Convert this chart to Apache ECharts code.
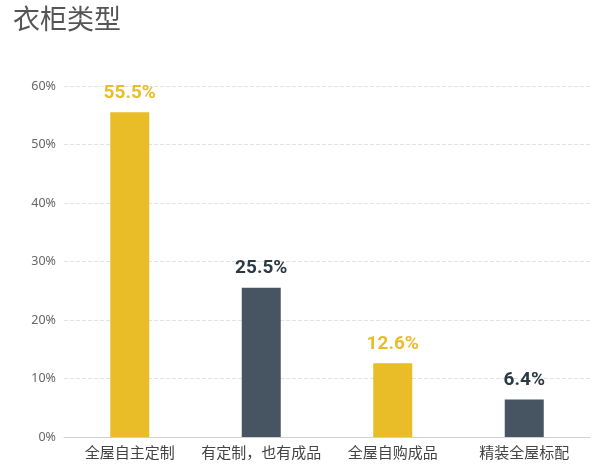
<!DOCTYPE html>
<html>
<head>
<meta charset="utf-8">
<script src="https://cdn.jsdelivr.net/npm/echarts@6/dist/echarts.min.js"></script>
<style>
  html, body { margin: 0; padding: 0; background: #fff; }
  #main { width: 600px; height: 468px; }
</style>
</head>
<body>
<div id="main"></div>
<script>
var categories = ['全屋自主定制', '有定制，也有成品', '全屋自购成品', '精装全屋标配'];
var values = [55.5, 25.5, 12.6, 6.4];
var barColors = ['#E8BD28', '#465561', '#E8BD28', '#465561'];
var labelColors = ['#E8BD28', '#2c3a44', '#E8BD28', '#2c3a44'];
var yTicks = [0, 10, 20, 30, 40, 50, 60];

var myChart = echarts.init(document.getElementById('main'));

var option = {
    title: {
        text: '衣柜类型',
        left: 8,
        top: 0,
        textStyle: {
            fontFamily: 'Noto Sans CJK SC',
            fontSize: 27,
            fontWeight: 'normal',
            color: '#555'
        }
    },
    grid: {
        left: 64,
        right: 10,
        top: 86,
        bottom: 31
    },
    xAxis: {
        type: 'category',
        data: categories,
        axisLine: { lineStyle: { color: '#d0d0d0' } },
        axisTick: { alignWithLabel: true, lineStyle: { color: '#d0d0d0' } },
        axisLabel: {
            interval: 0,
            fontFamily: 'Noto Sans CJK SC',
            fontSize: 15,
            color: '#444',
            margin: 8
        }
    },
    yAxis: {
        type: 'value',
        min: yTicks[0],
        max: yTicks[yTicks.length - 1],
        interval: 10,
        axisLine: { show: false },
        axisTick: { show: false },
        axisLabel: {
            formatter: '{value}%',
            fontFamily: 'Noto Sans',
            fontSize: 12.5,
            color: '#666',
            margin: 8
        },
        splitLine: {
            lineStyle: { type: 'dashed', color: '#e3e3e3' }
        }
    },
    series: [
        {
            type: 'bar',
            barWidth: 39,
            data: values.map(function (v, i) {
                return {
                    value: v,
                    itemStyle: { color: barColors[i] },
                    label: { color: labelColors[i] }
                };
            }),
            label: {
                show: true,
                position: 'top',
                distance: 10,
                formatter: '{c}%',
                fontFamily: 'Roboto',
                fontSize: 19,
                fontWeight: 'bold'
            }
        }
    ]
};

myChart.setOption(option);
</script>
</body>
</html>
